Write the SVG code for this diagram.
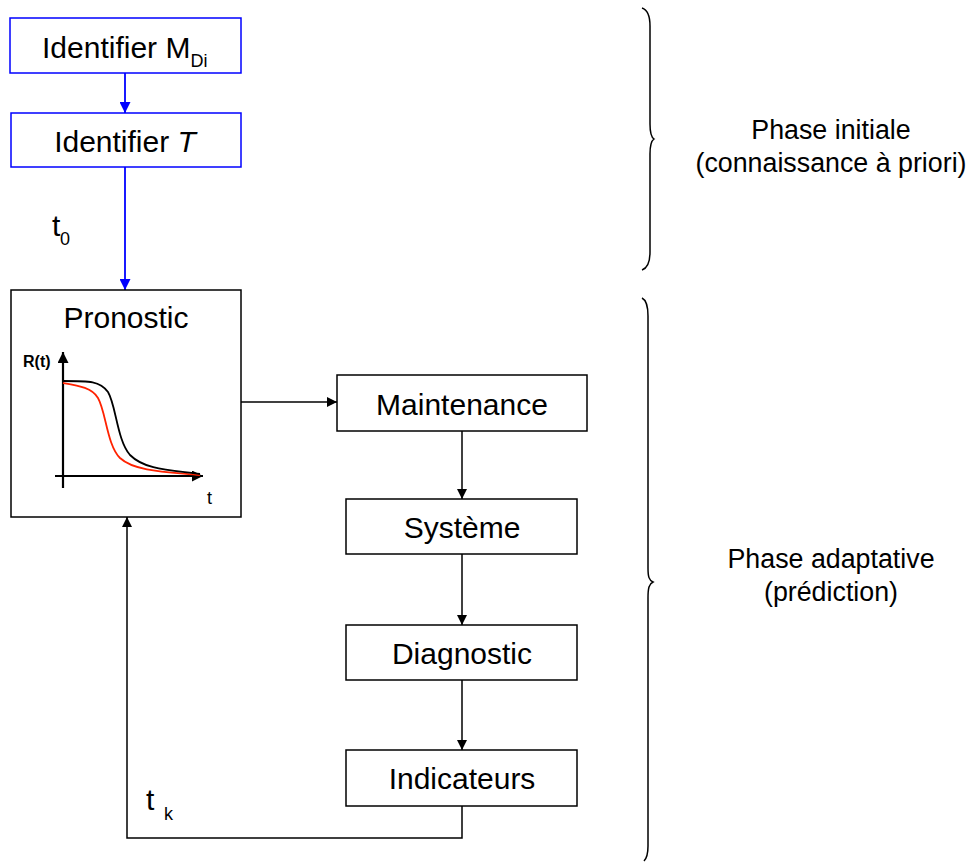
<svg xmlns="http://www.w3.org/2000/svg" width="969" height="863" viewBox="0 0 969 863">
  <style>
    text { font-family: "Liberation Sans", Arial, sans-serif; fill: #000; }
    .lbl { font-size: 30px; text-anchor: middle; }
    .side { font-size: 26.8px; text-anchor: middle; }
    .box { fill: #fff; stroke: #000; stroke-width: 1.5; }
    .bbox { fill: #fff; stroke: #0000ff; stroke-width: 1.5; }
    .wire { fill: none; stroke: #000; stroke-width: 1.5; }
    .bwire { fill: none; stroke: #0000ff; stroke-width: 1.8; }
    .brace { fill: none; stroke: #000; stroke-width: 1.5; }
  </style>
  <defs>
    <marker id="ah" viewBox="0 0 10 10" refX="10" refY="5" markerWidth="10" markerHeight="10" markerUnits="userSpaceOnUse" orient="auto">
      <path d="M0,0 L10,5 L0,10 Z" fill="#000"/>
    </marker>
    <marker id="ahb" viewBox="0 0 10 10" refX="10" refY="5" markerWidth="11" markerHeight="11" markerUnits="userSpaceOnUse" orient="auto">
      <path d="M0,0 L10,5 L0,10 Z" fill="#0000ff"/>
    </marker>
    <marker id="ax" viewBox="0 0 10 10" refX="10" refY="5" markerWidth="11" markerHeight="11" markerUnits="userSpaceOnUse" orient="auto">
      <path d="M0,0 L10,5 L0,10 Z" fill="#000"/>
    </marker>
  </defs>

  <!-- connectors -->
  <g id="connectors">
    <path class="bwire" d="M125,73 V113" marker-end="url(#ahb)"/>
    <path class="bwire" d="M125,167 V290" marker-end="url(#ahb)"/>
    <path class="wire" d="M241,402 H337" marker-end="url(#ah)"/>
    <path class="wire" d="M462,431 V499" marker-end="url(#ah)"/>
    <path class="wire" d="M462,554 V625" marker-end="url(#ah)"/>
    <path class="wire" d="M462,680 V750" marker-end="url(#ah)"/>
    <path class="wire" d="M462,806 V838 H127 V517" marker-end="url(#ah)"/>
    <text x="52" y="236" font-size="30">t</text>
    <text x="60" y="245" font-size="18">0</text>
    <text x="146" y="810" font-size="30">t</text>
    <text x="164" y="820" font-size="18">k</text>
  </g>

  <g id="identifier-mdi">
    <rect class="bbox" x="10" y="18" width="231" height="55"/>
    <text x="42" y="58" font-size="30">Identifier M<tspan font-size="18" dy="9">Di</tspan></text>
  </g>

  <g id="identifier-t">
    <rect class="bbox" x="11" y="113" width="230" height="54"/>
    <text class="lbl" x="125" y="152">Identifier <tspan font-style="italic">T</tspan></text>
  </g>

  <g id="pronostic">
    <rect class="box" x="11" y="290" width="230" height="227"/>
    <text class="lbl" x="126" y="328">Pronostic</text>
    <text x="23" y="367" font-size="16" font-weight="bold">R(t)</text>
    <text x="207" y="504" font-size="18">t</text>
    <path d="M63,488 V352" fill="none" stroke="#000" stroke-width="2.2" marker-end="url(#ax)"/>
    <path d="M55,476 H203" fill="none" stroke="#000" stroke-width="2.2" marker-end="url(#ax)"/>
    <path d="M63,383 C80,386 92,388 98,398 C106,412 107,445 120,458 C135,472 170,472 200,475" fill="none" stroke="#ff2200" stroke-width="1.8"/>
    <path d="M63,381 C90,381 100,381 108,392 C116,405 117,440 130,455 C145,470 170,470 200,474" fill="none" stroke="#000" stroke-width="1.8"/>
  </g>

  <g id="maintenance">
    <rect class="box" x="337" y="375" width="250" height="56"/>
    <text class="lbl" x="462" y="415">Maintenance</text>
  </g>

  <g id="systeme">
    <rect class="box" x="346" y="499" width="231" height="55"/>
    <text class="lbl" x="462" y="538">Système</text>
  </g>

  <g id="diagnostic">
    <rect class="box" x="346" y="625" width="231" height="55"/>
    <text class="lbl" x="462" y="664">Diagnostic</text>
  </g>

  <g id="indicateurs">
    <rect class="box" x="346" y="750" width="231" height="56"/>
    <text class="lbl" x="462" y="789">Indicateurs</text>
  </g>

  <!-- phase braces and labels -->
  <g id="phase-initiale">
    <path class="brace" d="M642,8 C648,10 650,16 650,26 V124 C650,133 651,137 654,139 C651,141 650,145 650,154 V252 C650,262 648,268 642,270"/>
    <text class="side" x="831" y="139">Phase initiale</text>
    <text class="side" x="831" y="172">(connaissance à priori)</text>
  </g>

  <g id="phase-adaptative">
    <path class="brace" d="M642,298 C646,300 648,306 648,316 V568 C648,577 649,580 653,582 C649,584 648,588 648,598 V846 C648,854 647,858 644,861"/>
    <text class="side" x="831" y="568">Phase adaptative</text>
    <text class="side" x="831" y="601">(prédiction)</text>
  </g>
</svg>
